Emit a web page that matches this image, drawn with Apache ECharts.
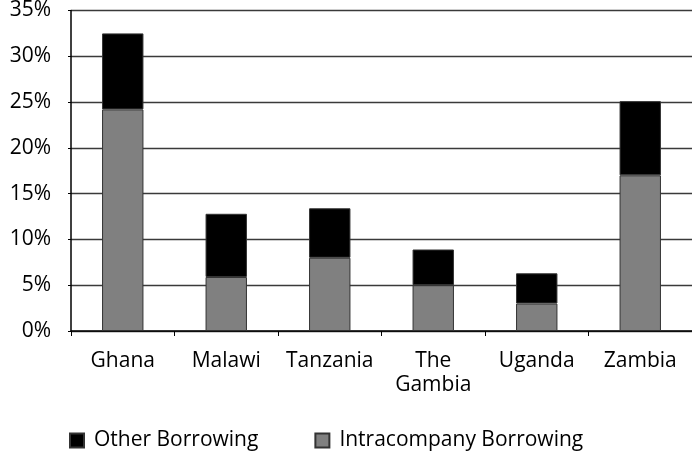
<!DOCTYPE html>
<html>
<head>
<meta charset="utf-8">
<script src="https://cdn.jsdelivr.net/npm/echarts@6/dist/echarts.min.js"></script>
<style>
  html, body { margin: 0; padding: 0; background: #fff; }
  #chart { width: 692px; height: 451px; }
</style>
</head>
<body>
<div id="chart"></div>
<script>
// Borrowing as a share of total, by country (percent)
const countries = ['Ghana', 'Malawi', 'Tanzania', 'The\nGambia', 'Uganda', 'Zambia'];
const intracompany = [24.2, 5.9, 8.0, 5.0, 3.0, 17.0];
const otherBorrowing = [8.3, 6.9, 5.4, 3.9, 3.3, 8.1];
const seriesNames = ['Other Borrowing', 'Intracompany Borrowing'];

const FONT = '"Open Sans", "Noto Sans", sans-serif';

const chart = echarts.init(document.getElementById('chart'));
chart.setOption({
  animation: false,
  textStyle: { fontFamily: FONT },
  grid: { left: 71, right: 0, top: 10, bottom: 120 },
  legend: {
    data: seriesNames,
    left: 64,
    top: 425,
    itemWidth: 14,
    itemHeight: 14,
    itemGap: 56,
    icon: 'rect',
    textStyle: { fontFamily: FONT, fontSize: 21, color: '#000', padding: [0, 0, 0, 5] }
  },
  xAxis: {
    type: 'category',
    data: countries,
    axisLine: { lineStyle: { color: '#000', width: 1.5 } },
    axisTick: { show: true, length: 5, lineStyle: { color: '#000' } },
    axisLabel: { color: '#000', fontSize: 21, fontFamily: FONT, margin: 18, lineHeight: 24, interval: 0 }
  },
  yAxis: {
    type: 'value',
    min: 0,
    max: 35,
    interval: 5,
    axisLine: { show: true, lineStyle: { color: '#000', width: 1.5 } },
    axisTick: { show: true, length: 3, lineStyle: { color: '#000' } },
    axisLabel: {
      color: '#000', fontSize: 21, fontFamily: FONT, margin: 20,
      padding: [4, 0, 0, 0], formatter: '{value}%'
    },
    splitLine: { show: true, lineStyle: { color: '#3a3a3a', width: 1.3 } }
  },
  series: [
    {
      name: seriesNames[1],
      type: 'bar',
      stack: 'total',
      data: intracompany,
      barWidth: '40%',
      itemStyle: { color: '#808080', borderColor: '#333', borderWidth: 1 }
    },
    {
      name: seriesNames[0],
      type: 'bar',
      stack: 'total',
      data: otherBorrowing,
      barWidth: '40%',
      itemStyle: { color: '#000', borderColor: '#333', borderWidth: 1 }
    }
  ]
});
</script>
</body>
</html>
